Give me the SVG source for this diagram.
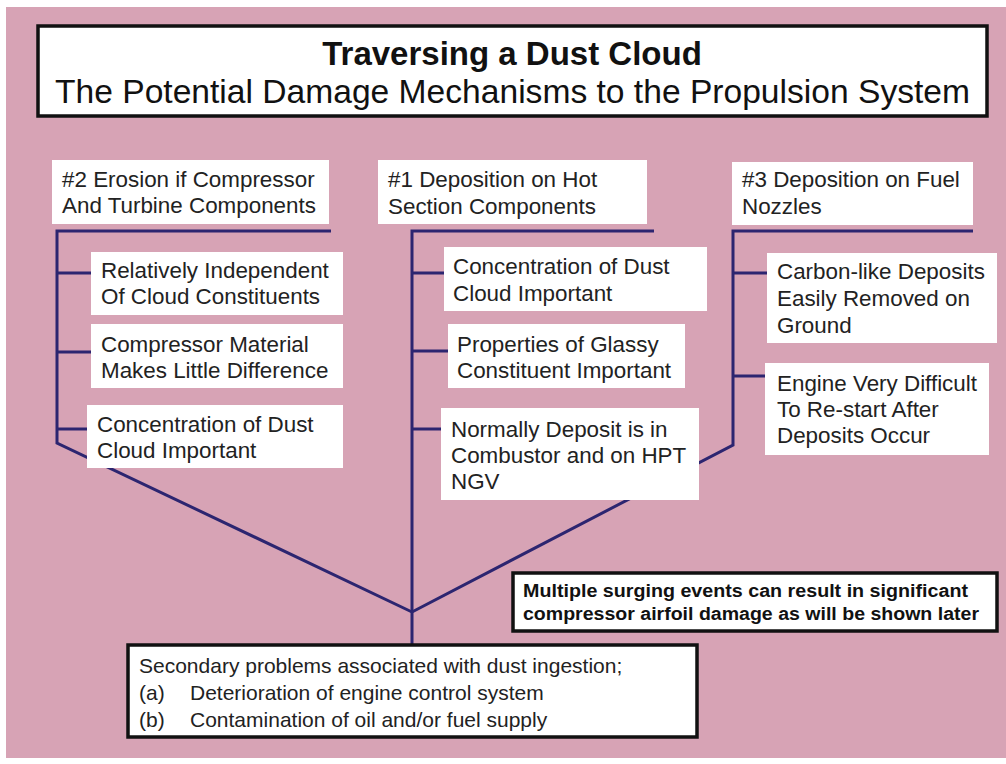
<svg xmlns="http://www.w3.org/2000/svg" width="1006" height="764" viewBox="0 0 1006 764">
<style>
.bg{fill:#d7a3b5}
.box{fill:#ffffff}
.frame{fill:#ffffff;stroke:#111111;stroke-width:3.5}
.t{font-family:"Liberation Sans",Arial,sans-serif;font-size:22.4px;fill:#222222}
.bt{font-family:"Liberation Sans",Arial,sans-serif;font-size:21px;fill:#222222}
.st{font-family:"Liberation Sans",Arial,sans-serif;font-size:18px;font-weight:bold;fill:#111111}
.ln{fill:none;stroke:#2c2570;stroke-width:3;stroke-linejoin:miter}
</style>
<rect x="0" y="0" width="1006" height="764" fill="#ffffff"/>
<rect class="bg" x="6" y="7" width="1000" height="751"/>

<g id="connectors">
<polyline class="ln" points="331,231 57,231 57,443 412,612"/>
<line class="ln" x1="57" y1="273" x2="92" y2="273"/>
<line class="ln" x1="57" y1="352" x2="92" y2="352"/>
<line class="ln" x1="57" y1="429" x2="88" y2="429"/>
<polyline class="ln" points="654,231 412,231 412,644"/>
<line class="ln" x1="412" y1="273" x2="445" y2="273"/>
<line class="ln" x1="412" y1="351" x2="449" y2="351"/>
<line class="ln" x1="412" y1="429" x2="442" y2="429"/>
<polyline class="ln" points="973,231 733,231 733,445 412,612"/>
<line class="ln" x1="733" y1="273" x2="768" y2="273"/>
<line class="ln" x1="733" y1="376" x2="766" y2="376"/>
</g>

<g id="title">
<rect class="frame" x="38" y="26" width="949" height="90"/>
<text x="512" y="65" text-anchor="middle" font-family="Liberation Sans,Arial,sans-serif" font-size="33" font-weight="bold" fill="#111">Traversing a Dust Cloud</text>
<text x="512.5" y="103" text-anchor="middle" font-family="Liberation Sans,Arial,sans-serif" font-size="33.5" fill="#111" textLength="915" lengthAdjust="spacingAndGlyphs">The Potential Damage Mechanisms to the Propulsion System</text>
</g>

<g id="erosion">
<rect class="box" x="52" y="160" width="277" height="64"/>
<text class="t" x="62" y="187">#2 Erosion if Compressor</text>
<text class="t" x="62" y="213">And Turbine Components</text>
</g>
<g id="erosion-1">
<rect class="box" x="91" y="252" width="252" height="63"/>
<text class="t" x="101" y="278">Relatively Independent</text>
<text class="t" x="101" y="304">Of Cloud Constituents</text>
</g>
<g id="erosion-2">
<rect class="box" x="91" y="324" width="252" height="64"/>
<text class="t" x="101" y="352">Compressor Material</text>
<text class="t" x="101" y="378">Makes Little Difference</text>
</g>
<g id="erosion-3">
<rect class="box" x="87" y="405" width="256" height="63"/>
<text class="t" x="97" y="432">Concentration of Dust</text>
<text class="t" x="97" y="458">Cloud Important</text>
</g>

<g id="deposition-hot">
<rect class="box" x="378" y="160" width="269" height="64"/>
<text class="t" x="388" y="187">#1 Deposition on Hot</text>
<text class="t" x="388" y="214">Section Components</text>
</g>
<g id="hot-1">
<rect class="box" x="444" y="247" width="263" height="64"/>
<text class="t" x="453" y="274">Concentration of Dust</text>
<text class="t" x="453" y="301">Cloud Important</text>
</g>
<g id="hot-2">
<rect class="box" x="448" y="324" width="237" height="64"/>
<text class="t" x="457" y="352">Properties of Glassy</text>
<text class="t" x="457" y="378">Constituent Important</text>
</g>
<g id="hot-3">
<rect class="box" x="441" y="408" width="258" height="92"/>
<text class="t" x="451" y="437">Normally Deposit is in</text>
<text class="t" x="451" y="463">Combustor and on HPT</text>
<text class="t" x="451" y="489">NGV</text>
</g>

<g id="deposition-fuel">
<rect class="box" x="732" y="162" width="241" height="63"/>
<text class="t" x="742" y="187">#3 Deposition on Fuel</text>
<text class="t" x="742" y="214">Nozzles</text>
</g>
<g id="fuel-1">
<rect class="box" x="767" y="253" width="230" height="90"/>
<text class="t" x="777" y="279">Carbon-like Deposits</text>
<text class="t" x="777" y="306">Easily Removed on</text>
<text class="t" x="777" y="333">Ground</text>
</g>
<g id="fuel-2">
<rect class="box" x="765" y="363" width="224" height="92"/>
<text class="t" x="777" y="391">Engine Very Difficult</text>
<text class="t" x="777" y="417">To Re-start After</text>
<text class="t" x="777" y="443">Deposits Occur</text>
</g>

<g id="surge-note">
<rect class="frame" x="513" y="573" width="484" height="58"/>
<text class="st" x="523" y="597" textLength="445" lengthAdjust="spacingAndGlyphs">Multiple surging events can result in significant</text>
<text class="st" x="523" y="620" textLength="456" lengthAdjust="spacingAndGlyphs">compressor airfoil damage as will be shown later</text>
</g>

<g id="secondary">
<rect class="frame" x="128" y="645" width="569" height="92"/>
<text class="bt" x="139" y="673">Secondary problems associated with dust ingestion;</text>
<text class="bt" x="139" y="700">(a)</text>
<text class="bt" x="190" y="700">Deterioration of engine control system</text>
<text class="bt" x="139" y="727">(b)</text>
<text class="bt" x="190" y="727">Contamination of oil and/or fuel supply</text>
</g>
</svg>
